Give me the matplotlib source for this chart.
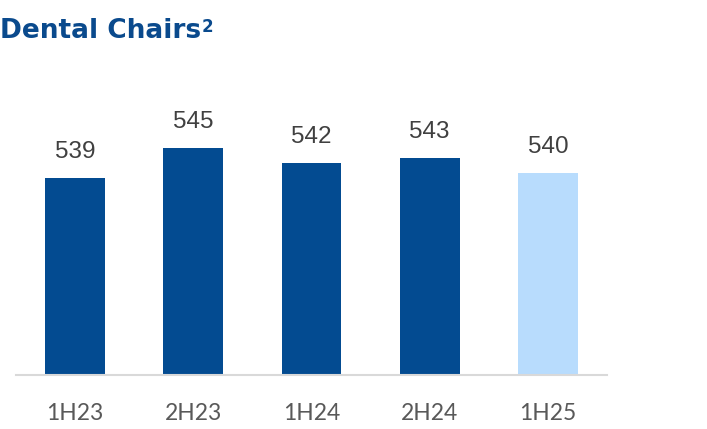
import matplotlib
matplotlib.use("Agg")
import matplotlib.pyplot as plt

# half-year periods and chair counts
periods = ["1H23", "2H23", "1H24", "2H24", "1H25"]
chairs = [539, 545, 542, 543, 540]
bar_colors = ["#034B91", "#034B91", "#034B91", "#034B91", "#B8DCFD"]

fig = plt.figure(figsize=(7.07, 4.29), dpi=100)
ax = fig.add_axes([16 / 707, 54 / 429, 591 / 707, 252 / 429])

x = range(len(periods))
ax.bar(x, chairs, width=0.505, color=bar_colors, zorder=2)

for xi, v in zip(x, chairs):
    ax.text(xi, v + 4.0, f"{v}", ha="center", va="baseline", fontsize=17.5,
            family="Liberation Sans", color="#404040", clip_on=False)

ax.set_xlim(-0.5, 4.5)
ax.set_ylim(500, 550)
ax.set_yticks([])
ax.set_xticks(list(x))
ax.set_xticklabels(periods, fontsize=16.5, family="Lato", color="#595959")
ax.tick_params(axis="x", length=0, pad=20)

for side in ("left", "right", "top"):
    ax.spines[side].set_visible(False)
ax.spines["bottom"].set_color("#D9D9D9")
ax.spines["bottom"].set_linewidth(1.5)

# title with a raised footnote marker
title = fig.text(0.0, 391 / 429, "Dental Chairs", fontsize=19, fontweight="heavy",
                 family="DejaVu Sans", color="#0A4A8D", ha="left", va="baseline")
fig.canvas.draw()
bb = title.get_window_extent()
fig.text(bb.x1 / 707 + 0.001, 397 / 429, "2", fontsize=12, fontweight="bold",
         family="DejaVu Sans", color="#0A4A8D", ha="left", va="baseline")

fig.savefig("out.png", dpi=100)
